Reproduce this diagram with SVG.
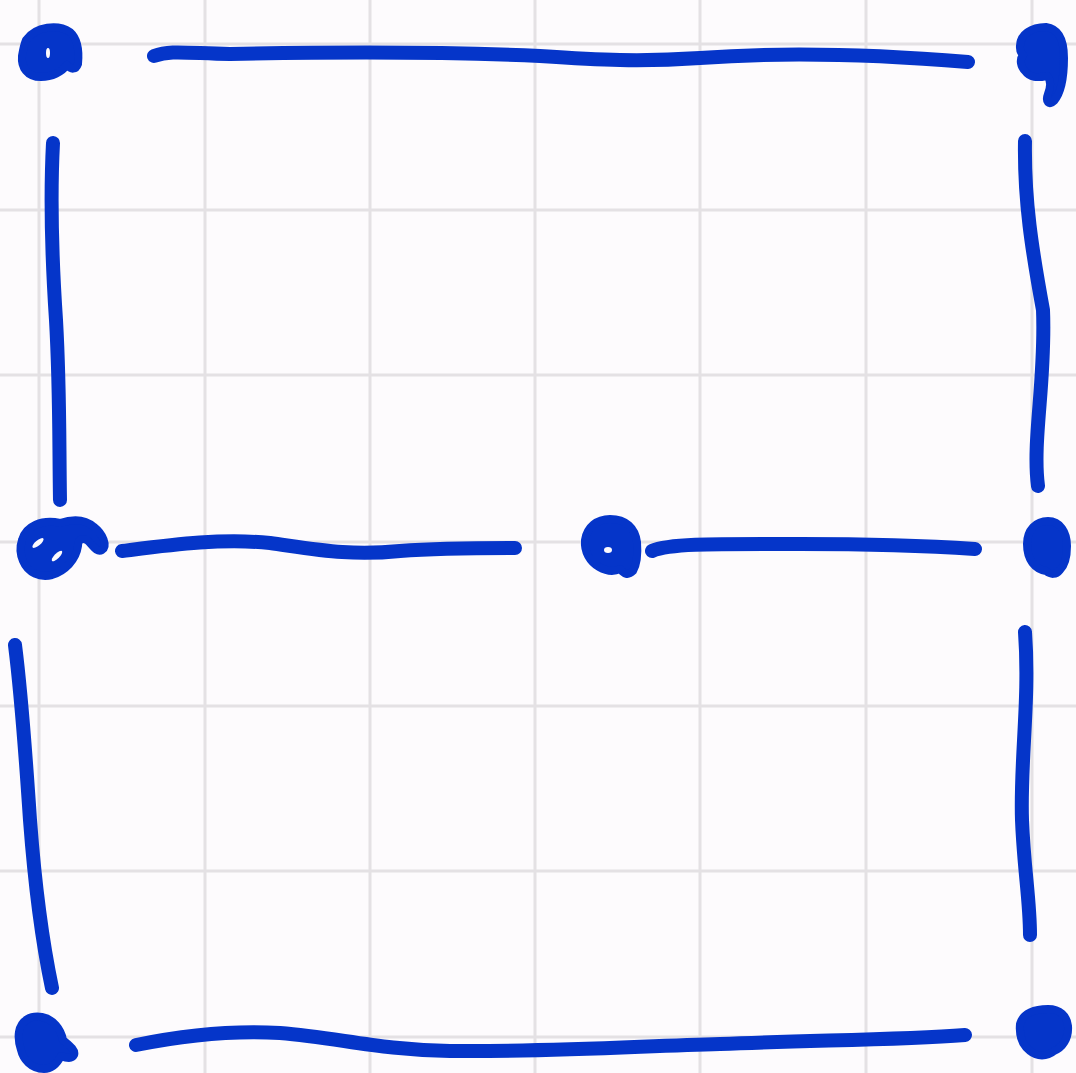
<svg xmlns="http://www.w3.org/2000/svg" width="1076" height="1073" viewBox="0 0 1076 1073">
<style>
.grid line{stroke:#e4e1e4;stroke-width:3}
.edge{fill:none;stroke:#0535c9;stroke-width:14;stroke-linecap:round;stroke-linejoin:round}
.blob{fill:#0535c9;stroke:#0535c9;stroke-width:8;stroke-linejoin:round;stroke-linecap:round}
.hole{fill:#fdfbfd}
</style>
<rect width="1076" height="1073" fill="#fdfbfd"/>
<g class="grid">
<line x1="39" y1="0" x2="39" y2="1073"/>
<line x1="205" y1="0" x2="205" y2="1073"/>
<line x1="370" y1="0" x2="370" y2="1073"/>
<line x1="535" y1="0" x2="535" y2="1073"/>
<line x1="700" y1="0" x2="700" y2="1073"/>
<line x1="866" y1="0" x2="866" y2="1073"/>
<line x1="1032" y1="0" x2="1032" y2="1073"/>
<line x1="0" y1="44" x2="1076" y2="44"/>
<line x1="0" y1="210" x2="1076" y2="210"/>
<line x1="0" y1="375" x2="1076" y2="375"/>
<line x1="0" y1="542" x2="1076" y2="542"/>
<line x1="0" y1="706" x2="1076" y2="706"/>
<line x1="0" y1="871" x2="1076" y2="871"/>
<line x1="0" y1="1037" x2="1076" y2="1037"/>
</g>
<g id="connectors">
<path class="edge" d="M154,56 C170,50 185,53 230,54 C330,52 430,51 540,56 C600,60 640,62 700,58 C780,52 870,54 968,62"/>
<path class="edge" d="M53,143 C50,200 52,260 56,320 C60,390 59,440 60,500"/>
<path class="edge" d="M1025,141 C1024,200 1032,250 1043,310 C1046,380 1032,440 1038,486"/>
<path class="edge" d="M122,551 C170,545 220,538 270,543 C320,550 350,556 400,551 C440,548 480,548 515,548"/>
<path class="edge" d="M652,551 C670,543 720,544 800,544 C880,544 930,546 975,549"/>
<path class="edge" d="M15,645 C22,700 26,760 30,820 C36,900 44,950 52,988"/>
<path class="edge" d="M1025,632 C1030,700 1020,760 1022,820 C1024,870 1030,900 1030,935"/>
<path class="edge" d="M136,1045 C180,1036 230,1030 280,1033 C340,1038 380,1050 450,1051 C560,1052 640,1046 720,1044 C820,1040 900,1040 965,1035"/>
</g>
<g id="node-top-left">
<path class="blob" d="M26,40 C36,26 58,24 70,32 C79,40 79,54 78,64 C76,70 71,70 67,65 C62,72 52,77 41,77 C27,77 21,67 22,56 C23,50 24,45 26,40 Z"/>
<ellipse class="hole" cx="48" cy="53" rx="2" ry="5"/>
</g>
<g id="node-top-right">
<path class="blob" d="M1020,48 C1019,34 1032,27 1046,27 C1060,29 1064,41 1064,58 C1064,76 1062,92 1054,101 C1049,106 1045,102 1048,94 C1051,86 1051,80 1047,76 C1037,78 1030,78 1025,71 C1021,67 1019,60 1023,55 C1020,52 1020,50 1020,48 Z"/>
</g>
<g id="node-mid-left">
<path class="blob" d="M22,540 C26,526 42,519 60,523 C72,519 85,519 94,527 C103,534 108,546 102,550 C97,553 93,546 88,541 C83,537 78,539 78,546 C76,560 65,571 52,575 C40,578 28,573 23,561 C20,554 20,546 22,540 Z"/>
<ellipse class="hole" cx="38" cy="543" rx="2.5" ry="7" transform="rotate(50 38 543)"/>
<ellipse class="hole" cx="57" cy="556" rx="2.5" ry="7" transform="rotate(45 57 556)"/>
</g>
<g id="node-mid-center">
<path class="blob" d="M585,540 C587,527 597,519 610,519 C626,519 635,528 637,542 C638,554 637,564 633,571 C628,576 624,574 620,569 C614,572 606,571 599,567 C590,562 584,552 585,540 Z"/>
<ellipse class="hole" cx="608" cy="550" rx="4" ry="3"/>
</g>
<g id="node-mid-right">
<path class="blob" d="M1027,544 C1027,530 1036,521 1048,521 C1060,521 1067,532 1067,546 C1067,556 1065,565 1060,570 C1056,575 1051,575 1046,571 C1035,569 1027,560 1027,544 Z"/>
</g>
<g id="node-bottom-left">
<path class="blob" d="M19,1032 C21,1020 31,1015 42,1017 C53,1019 61,1029 63,1040 C69,1045 76,1050 74,1055 C72,1059 66,1058 61,1056 C57,1064 51,1069 44,1069 C31,1069 23,1059 21,1050 C19,1044 18,1038 19,1032 Z"/>
</g>
<g id="node-bottom-right">
<path class="blob" d="M1020,1024 C1023,1013 1035,1009 1048,1009 C1060,1009 1067,1016 1068,1026 C1069,1039 1062,1048 1054,1051 C1047,1057 1037,1057 1030,1051 C1022,1045 1019,1035 1020,1024 Z"/>
</g>
</svg>
